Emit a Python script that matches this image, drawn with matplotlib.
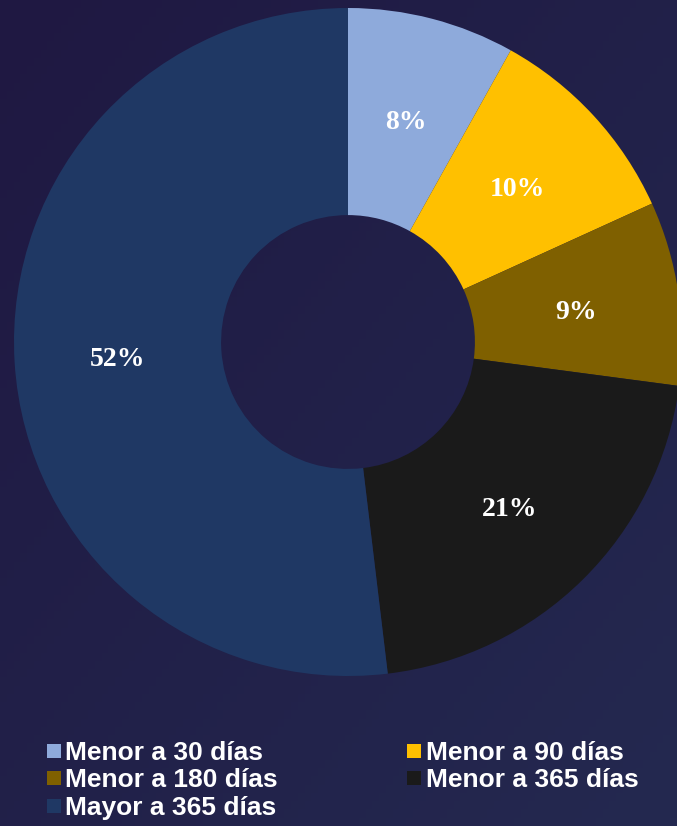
import numpy as np
import matplotlib.pyplot as plt
import matplotlib.transforms as mtransforms
from matplotlib.lines import Line2D

# share of portfolio by age bucket
labels = ["Menor a 30 días", "Menor a 90 días", "Menor a 180 días",
          "Menor a 365 días", "Mayor a 365 días"]
values = [8.1, 10.1, 8.9, 21.0, 51.9]
colors = ["#8eaadb", "#ffc000", "#7f6000", "#1a1a1a", "#1f3864"]

W, H = 677, 826
fig = plt.figure(figsize=(W / 100, H / 100), dpi=100)

# background gradient, darker top-left -> lighter bottom-right
bg = fig.add_axes([0, 0, 1, 1])
yy, xx = np.mgrid[0:1:100j, 0:1:100j]
t = (xx + yy) / 2
c0 = np.array([0x1f, 0x18, 0x42]) / 255
c1 = np.array([0x24, 0x29, 0x50]) / 255
img = c0[None, None, :] * (1 - t[..., None]) + c1[None, None, :] * t[..., None]
bg.imshow(img, extent=[0, 1, 0, 1], aspect="auto", origin="upper")
bg.axis("off")

# donut, centre at (348, 342) px, radius 334 px
cx, cy, r = 348, 342, 334
ax = fig.add_axes([(cx - r) / W, 1 - (cy + r) / H, 2 * r / W, 2 * r / H])
wedges, _, autotexts = ax.pie(
    values, colors=colors, startangle=90, counterclock=False,
    radius=1, autopct=lambda p: f"{p:.0f}%", pctdistance=0.69,
    wedgeprops=dict(width=0.62, linewidth=0),
    textprops=dict(color="white", fontsize=20, fontweight="bold",
                   family="Liberation Serif"))
# labels sit a few pixels lower in the original
shift = mtransforms.offset_copy(ax.transData, fig=fig, x=0, y=-4, units="dots")
for at in autotexts:
    at.set_transform(shift)
ax.set_xlim(-1, 1)
ax.set_ylim(-1, 1)
ax.set_aspect("equal")
ax.axis("off")

# legend, row-major order like the original
handles = [Line2D([], [], marker="s", linestyle="none", markersize=10,
                  markerfacecolor=c, markeredgewidth=0) for c in colors]
order = [0, 2, 4, 1, 3]
leg = fig.legend([handles[i] for i in order], [labels[i] for i in order],
                 ncol=2, loc="upper left",
                 bbox_to_anchor=(47 / W, 1 - 741 / H),
                 frameon=False, borderpad=0, borderaxespad=0,
                 handlelength=0.5, handletextpad=0.2, columnspacing=4.9,
                 labelspacing=0.13,
                 prop=dict(family="Liberation Sans", weight="bold", size=19))
for txt in leg.get_texts():
    txt.set_color("white")

fig.savefig("out.png", dpi=100)
